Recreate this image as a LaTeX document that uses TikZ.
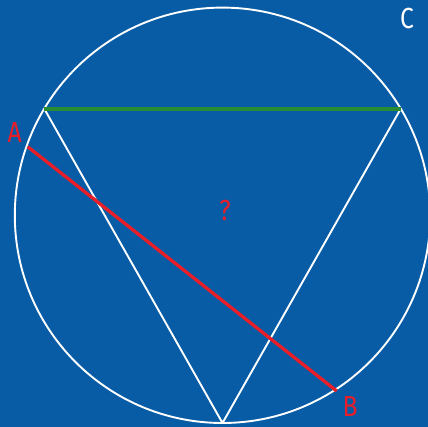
\documentclass[tikz,border=0pt]{standalone}
\usepackage{fontspec}
\newfontfamily\labfont[FakeStretch=0.85]{Fira Sans}
\definecolor{bg}{RGB}{8,92,166}
\definecolor{lred}{RGB}{232,30,40}
\definecolor{lgreen}{RGB}{40,140,50}
\begin{document}
\begin{tikzpicture}[x=1pt,y=-1pt,
  lab/.style={font=\labfont\fontsize{29}{29}\selectfont, inner sep=0pt, anchor=center},
  wline/.style={draw=white, line width=1.9pt}]
\fill[bg] (0,0) rectangle (428,427);
\useasboundingbox (0,0) rectangle (428,427);
\coordinate (O) at (222.5,215.3);
\draw[wline] (O) circle[radius=207.7];
\coordinate (TL) at (44.4,109);
\coordinate (TR) at (400.6,109);
\coordinate (BO) at (222.5,423);
\coordinate (PA) at (27.7,146.7);
\coordinate (PB) at (336.7,391);
\draw[wline, line join=round] (TL) -- (BO) -- (TR);
\draw[lgreen, line width=3.3pt] (TL) -- (TR);
\draw[lred, line width=3.3pt] (PA) -- (PB);
\node[lab, text=lred] (A) at (14.7,133) {A};
\node[lab, text=lred] (B) at (350,406.5) {B};
\node[lab, text=white] (C) at (407,19) {C};
\node[lab, text=lred] (Q) at (225,211) {?};
\end{tikzpicture}
\end{document}
